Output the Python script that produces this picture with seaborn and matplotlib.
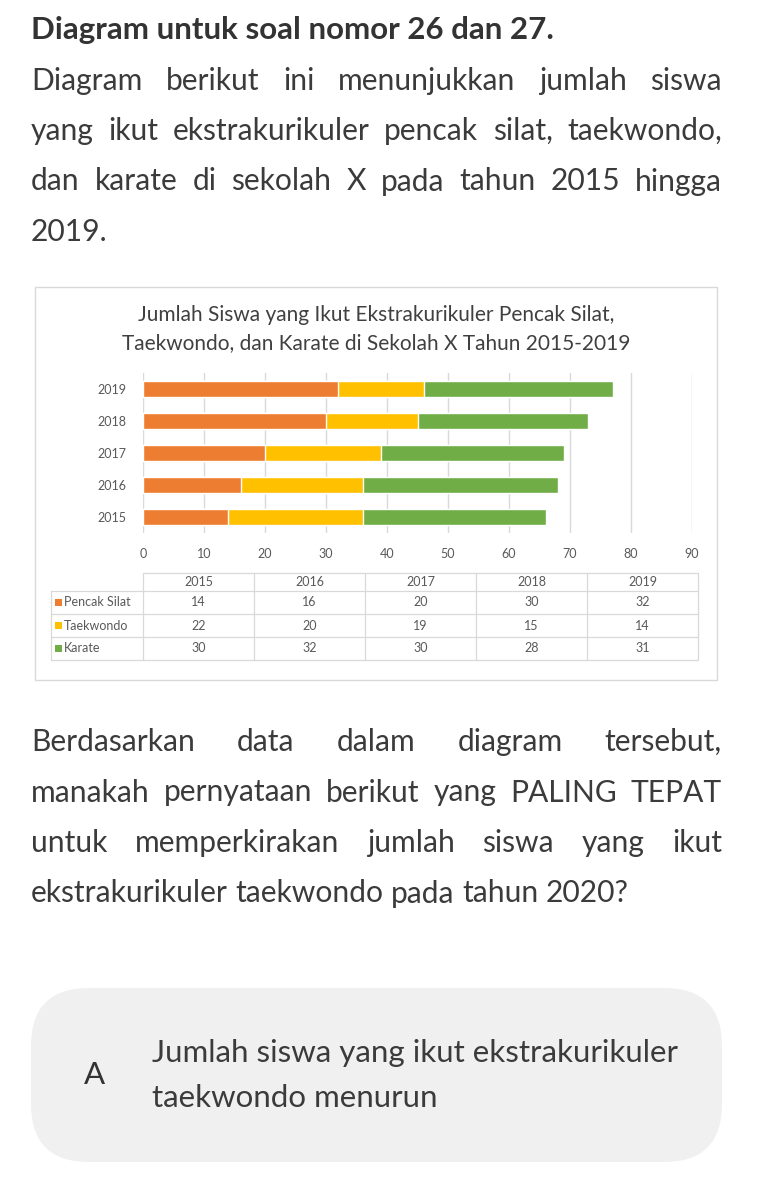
import numpy as np
import pandas as pd
import matplotlib
matplotlib.use("Agg")
import matplotlib.pyplot as plt
import seaborn as sns
from matplotlib.patches import FancyBboxPatch, Rectangle

# ---------------- data ----------------
years = ["2015", "2016", "2017", "2018", "2019"]
pencak_silat = [14, 16, 20, 30, 32]
taekwondo = [22, 20, 19, 15, 14]
karate = [30, 32, 30, 28, 31]
series_names = ["Pencak Silat", "Taekwondo", "Karate"]
series_colors = ["#ED7D31", "#FFC000", "#70AD47"]
x_ticks = [0, 10, 20, 30, 40, 50, 60, 70, 80, 90]

heading = "Diagram untuk soal nomor 26 dan 27."
intro_lines = [
    "Diagram berikut ini menunjukkan jumlah siswa",
    "yang ikut ekstrakurikuler pencak silat, taekwondo,",
    "dan karate di sekolah X pada tahun 2015 hingga",
    "2019.",
]
chart_title = ["Jumlah Siswa yang Ikut Ekstrakurikuler Pencak Silat,",
               "Taekwondo, dan Karate di Sekolah X Tahun 2015-2019"]
question_lines = [
    "Berdasarkan data dalam diagram tersebut,",
    "manakah pernyataan berikut yang PALING TEPAT",
    "untuk memperkirakan jumlah siswa yang ikut",
    "ekstrakurikuler taekwondo pada tahun 2020?",
]
option_letter = "A"
option_lines = ["Jumlah siswa yang ikut ekstrakurikuler", "taekwondo menurun"]

# ---------------- figure / page ----------------
sns.set_theme(style="white")
plt.rcParams["font.family"] = ["Lato", "DejaVu Sans"]

W, H = 784, 1187
fig = plt.figure(figsize=(W / 100, H / 100), dpi=100)
fig.patch.set_facecolor("white")
page = fig.add_axes([0, 0, 1, 1], zorder=0)
page.set_xlim(0, W)
page.set_ylim(H, 0)
page.axis("off")
renderer = fig.canvas.get_renderer()

TXT = "#3b3b3b"


def text_width(s, size, **kw):
    t = page.text(0, 0, s, fontsize=size, **kw)
    w = t.get_window_extent(renderer).width
    t.remove()
    return w


def fit(s, target, **kw):
    return 20 * target / text_width(s, 20, **kw)


def line_out(line, y, size, x0, x1, justify=True, **kw):
    words = line.split()
    widths = [text_width(w, size, **kw) for w in words]
    if justify and len(words) > 1:
        gap = (x1 - x0 - sum(widths)) / (len(words) - 1)
    else:
        gap = text_width("a a", size, **kw) - text_width("aa", size, **kw)
    x = x0
    for w, wd in zip(words, widths):
        page.text(x, y, w, fontsize=size, ha="left", va="baseline", color=TXT, **kw)
        x += wd + gap


# heading
hs = fit(heading, 521, weight="bold")
page.text(31, 39, heading, fontsize=hs, weight="bold", color="#333333",
          ha="left", va="baseline")

body = fit(question_lines[-1], 600)
for i, (ln, yb) in enumerate(zip(intro_lines, [90, 140, 190.5, 241])):
    line_out(ln, yb, body, 31, 722, justify=(i < len(intro_lines) - 1))
for i, (ln, yb) in enumerate(zip(question_lines, [751, 801.5, 852, 902.5])):
    line_out(ln, yb, body, 31, 722, justify=(i < len(question_lines) - 1))

# chart frame
page.add_patch(Rectangle((35, 287), 682, 393, facecolor="white",
                         edgecolor="#d9d9d9", lw=1.0))
ts = fit(chart_title[0], 477)
page.text(376, 321, chart_title[0], fontsize=ts, ha="center", va="baseline", color="#404040")
page.text(376, 349, chart_title[1], fontsize=ts, ha="center", va="baseline", color="#404040")

# ---------------- bar chart ----------------
df = pd.DataFrame({"Tahun": years, "Pencak Silat": pencak_silat,
                   "Taekwondo": taekwondo, "Karate": karate})
df["c1"] = df["Pencak Silat"]
df["c2"] = df["c1"] + df["Taekwondo"]
df["c3"] = df["c2"] + df["Karate"]

ax = fig.add_axes([143 / W, 1 - 533 / H, (692 - 143) / W, 160 / H], zorder=2)
ax.set_facecolor("none")
order = years[::-1]
for col, c in zip(["c3", "c2", "c1"], series_colors[::-1]):
    sns.barplot(data=df, x=col, y="Tahun", order=order, color=c, width=0.5,
                saturation=1, errorbar=None, ax=ax, zorder=3)
ax.set_xlim(0, 90)
ax.set_xticks(x_ticks)
ax.grid(axis="x", color="#d9d9d9", lw=1.0, zorder=0)
ax.grid(axis="y", visible=False)
ax.set_axisbelow(True)
for s in ax.spines.values():
    s.set_visible(False)
ax.tick_params(axis="both", length=0, labelsize=9, labelcolor="#595959")
ax.tick_params(axis="x", pad=11)
ax.tick_params(axis="y", pad=12)
ax.set_xlabel("")
ax.set_ylabel("")

# ---------------- data table ----------------
col_edges = np.linspace(143, 698, len(years) + 1)
row_edges = [573, 591, 614, 637, 660]
label_left = 51
gc = "#d9d9d9"
page.plot([col_edges[0], col_edges[-1]], [row_edges[0]] * 2, color=gc, lw=0.9)
for yy in row_edges[1:]:
    page.plot([label_left, col_edges[-1]], [yy, yy], color=gc, lw=0.9)
page.plot([label_left, label_left], [row_edges[1], row_edges[-1]], color=gc, lw=0.9)
for xx in col_edges:
    page.plot([xx, xx], [row_edges[0], row_edges[-1]], color=gc, lw=0.9)

tfs = 9
for j, yr in enumerate(years):
    cx = (col_edges[j] + col_edges[j + 1]) / 2
    page.text(cx, (row_edges[0] + row_edges[1]) / 2, yr, fontsize=tfs,
              ha="center", va="center", color="#595959")
for i, (name, vals, c) in enumerate(zip(series_names, [pencak_silat, taekwondo, karate], series_colors)):
    cy = (row_edges[i + 1] + row_edges[i + 2]) / 2
    page.add_patch(Rectangle((55, cy - 3.5), 7, 7, facecolor=c, edgecolor="none"))
    page.text(64, cy, name, fontsize=tfs, ha="left", va="center", color="#595959")
    for j, v in enumerate(vals):
        cx = (col_edges[j] + col_edges[j + 1]) / 2
        page.text(cx, cy, str(v), fontsize=tfs, ha="center", va="center", color="#595959")

# ---------------- option box ----------------
page.add_patch(FancyBboxPatch((31, 988), 691, 174,
                              boxstyle="round,pad=0,rounding_size=58",
                              facecolor="#f0f0f0", edgecolor="none"))
osz = fit(option_lines[0], 528)
page.text(84, 1084, option_letter, fontsize=osz, ha="left", va="baseline", color="#333333")
page.text(152, 1062, option_lines[0], fontsize=osz, ha="left", va="baseline", color=TXT)
page.text(152, 1107, option_lines[1], fontsize=osz, ha="left", va="baseline", color=TXT)

fig.savefig("out.png", dpi=100, facecolor="white")
